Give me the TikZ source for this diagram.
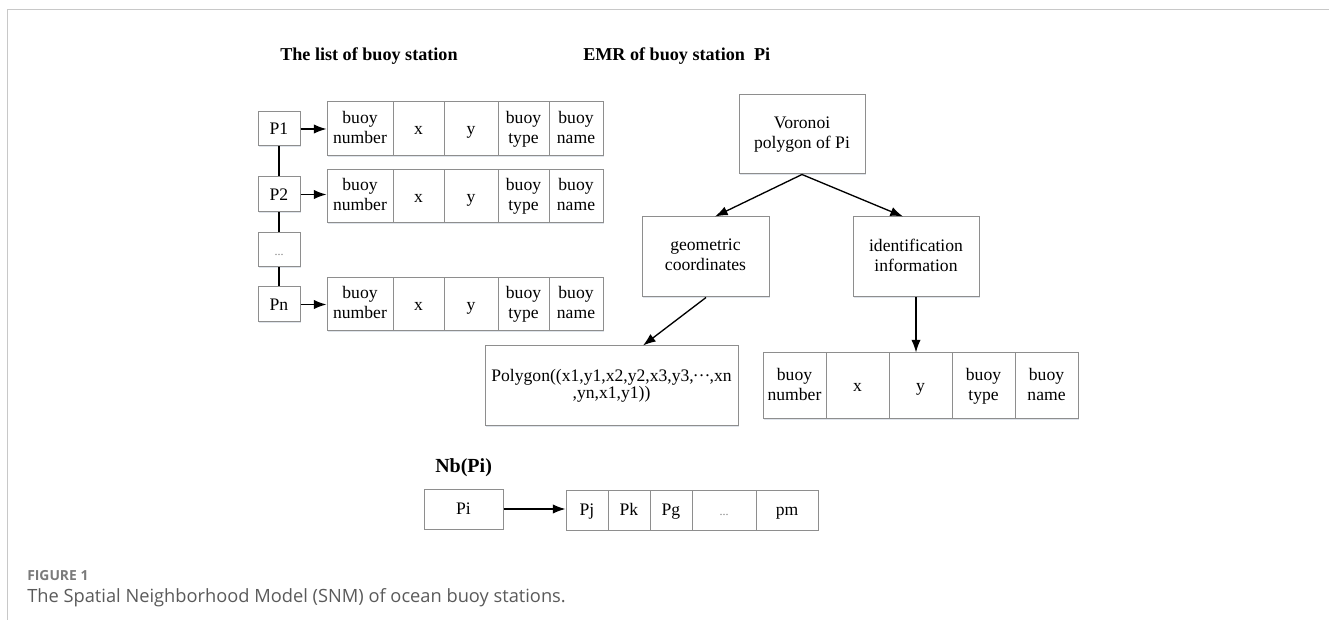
\documentclass[tikz,border=0pt]{standalone}
\usepackage{fontspec}
\setmainfont{Liberation Serif}
\newfontfamily\capfont{Open Sans}
\usetikzlibrary{arrows.meta,calc,shadows}
\definecolor{boxgray}{HTML}{8E8E8E}
\definecolor{shadowc}{HTML}{C9D2DE}
\definecolor{framegray}{HTML}{C8C8C8}
\definecolor{capgray}{HTML}{7A7A7A}
\definecolor{captext}{HTML}{5A5A5A}
\newcommand\mkcell[6]{\node[box, minimum width={(#4-#2)*0.75pt}, minimum height={(#5-#3)*0.75pt}] (#1) at ({(#2+#4)/2},{(#3+#5)/2}) {#6};}
\newcommand\buoyrow[3]{%
  \mkcell{#1a}{327}{#2}{393}{#3}{buoy\\number}
  \mkcell{#1b}{393}{#2}{444}{#3}{x}
  \mkcell{#1c}{444}{#2}{498}{#3}{y}
  \mkcell{#1d}{498}{#2}{549}{#3}{buoy\\type}
  \mkcell{#1e}{549}{#2}{603}{#3}{buoy\\name}}
\newcommand\midell{\raisebox{0.27em}{\kern-0.05em…\kern-0.05em}}
\newcommand\topstrut{\rule[-3pt]{0pt}{14.5pt}}
\begin{document}
\begin{tikzpicture}[x=0.75pt,y=-0.75pt,
  box/.style={draw=boxgray, line width=0.75pt, fill=white, inner sep=0pt, align=center,
    font=\fontsize{13.2}{15}\selectfont,
    execute at begin node=\topstrut, execute at end node=\topstrut,
    drop shadow={shadow xshift=0.7pt, shadow yshift=-0.7pt, fill=shadowc, opacity=0.6}},
  arr/.style={-{Latex[length=9.5pt,width=7pt]}, line width=1pt},
  link/.style={line width=1pt},
  title/.style={font=\fontsize{13.6}{16}\selectfont\bfseries, inner sep=0pt, anchor=base west}]
\useasboundingbox (0,0) rectangle (1329,620);
\draw[framegray, line width=0.75pt] (7,620) -- (7,10) -- (1329,10);

% titles
\node[title] (t1) at (280,61) {The list of buoy station};
\node[title] (t2) at (583,61) {EMR of buoy station\ \ Pi};
\node[title, font=\fontsize{15}{18}\selectfont\bfseries] (t3) at (435,472) {Nb(Pi)};

% list of buoy stations
\mkcell{p1}{258}{112}{300}{146}{P1}
\mkcell{p2}{258}{177}{300}{212}{P2}
\mkcell{pdots}{258}{233}{300}{267}{\fontsize{9}{9}\selectfont\color{gray}...}
\mkcell{pn}{258}{287}{300}{322}{Pn}
\buoyrow{ra}{102}{156}
\buoyrow{rb}{170}{223}
\buoyrow{rn}{278}{331}
\draw[link] (p1) -- (p2);
\draw[link] (p2) -- (pdots);
\draw[link] (pdots) -- (pn);
\draw[arr] (p1.east) -- (p1.east -| raa.west);
\draw[arr] (p2.east) -- (p2.east -| rba.west);
\draw[arr] (pn.east) -- (pn.east -| rna.west);

% EMR tree
\mkcell{vor}{739}{95}{865}{174}{Voronoi\\polygon of Pi}
\mkcell{geo}{642}{217}{769}{297}{geometric\\coordinates}
\mkcell{ident}{853}{217}{979}{297}{identification\\information}
\node[box, font=\fontsize{13.2}{13}\selectfont, minimum width={253*0.75pt}, minimum height={80*0.75pt}] (poly) at (611.5,386) {Polygon((x1,y1,x2,y2,x3,y3,\midell,xn\\,yn,x1,y1))};
\mkcell{ta}{763}{353}{826}{419}{buoy\\number}
\mkcell{tb}{826}{353}{889}{419}{x}
\mkcell{tc}{889}{353}{952}{419}{y}
\mkcell{td}{952}{353}{1015}{419}{buoy\\type}
\mkcell{te}{1015}{353}{1078}{419}{buoy\\name}
\draw[arr] (vor.south) -- ($(geo.north)+(9.5,0)$);
\draw[arr] (vor.south) -- ($(ident.north)+(-13,0)$);
\draw[arr] ($(geo.south)+(0.5,0)$) -- ($(poly.north)+(31.5,0)$);
\draw[arr] (ident.south) -- (ident.south |- tc.north);

% neighbourhood
\mkcell{nbpi}{424}{489}{503}{529}{Pi}
\mkcell{na}{566}{490}{608}{530}{Pj}
\mkcell{nb}{608}{490}{650}{530}{Pk}
\mkcell{nc}{650}{490}{692}{530}{Pg}
\mkcell{nd}{692}{490}{756}{530}{\fontsize{9}{9}\selectfont\color{gray}...}
\mkcell{ne}{756}{490}{818}{530}{pm}
\draw[arr] (nbpi.east) -- (nbpi.east -| na.west);

% caption
\node[anchor=base west, inner sep=0pt, font=\capfont\bfseries\fontsize{10.4}{12}\selectfont, text=capgray] (fig) at (27,580) {FIGURE 1};
\node[anchor=base west, inner sep=0pt, font=\capfont\fontsize{13.7}{16}\selectfont, text=captext] (cap) at (27,602) {The Spatial Neighborhood Model (SNM) of ocean buoy stations.};
\end{tikzpicture}
\end{document}
